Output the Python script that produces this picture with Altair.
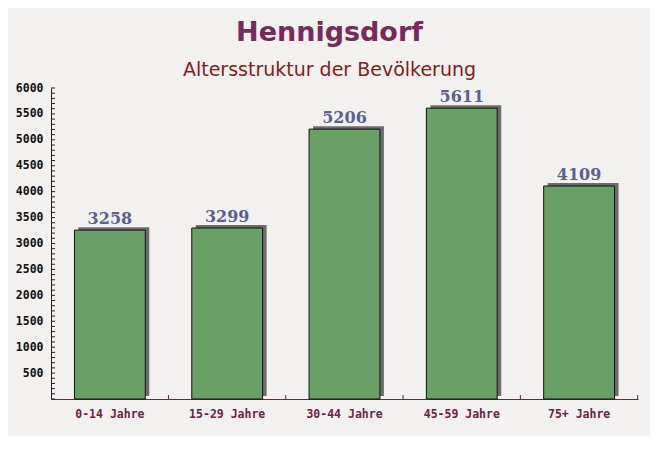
import altair as alt
import pandas as pd

categories = ["0-14 Jahre", "15-29 Jahre", "30-44 Jahre", "45-59 Jahre", "75+ Jahre"]
values = [3258, 3299, 5206, 5611, 4109]
major_ticks = [500, 1000, 1500, 2000, 2500, 3000, 3500, 4000, 4500, 5000, 5500, 6000]
minor_ticks = list(range(0, 6001, 100))

df = pd.DataFrame({"cat": categories, "val": values})

xscale = alt.Scale(domain=categories, paddingInner=0.396, paddingOuter=0.2)
yscale = alt.Scale(domain=[0, 6000], nice=False)

label_font = "DejaVu Sans Mono"

x_axis = alt.Axis(labelAngle=0, ticks=False, labelPadding=9,
                  labelFont=label_font, labelFontWeight="bold",
                  labelFontSize=11.5, labelColor="#6b2346",
                  domainColor="#6b2346", domainWidth=1, grid=False)
y_axis = alt.Axis(values=major_ticks, ticks=False, labelPadding=8,
                  format="d",
                  labelFont=label_font, labelFontWeight="bold",
                  labelFontSize=11.5, labelColor="#111111",
                  domainColor="#222222", grid=False, orient="left")

X = lambda: alt.X("cat:N", scale=xscale, sort=categories, title=None, axis=x_axis)
Y = lambda f="val:Q": alt.Y(f, scale=yscale, title=None, axis=y_axis)

shadow = alt.Chart(df).mark_bar(color="#555555", opacity=0.85).encode(
    x=X(), y=Y(),
    xOffset=alt.value(4),
    yOffset=alt.value(-3),
)

bars = alt.Chart(df).mark_bar(color="#6a9f68", stroke="#111111", strokeWidth=1).encode(
    x=X(), y=Y(),
)

labels = alt.Chart(df).mark_text(
    baseline="bottom", dy=-3, font="DejaVu Serif", fontWeight="bold",
    fontSize=16, color="#5b6090"
).encode(
    x=X(), y=Y(),
    text="val:Q",
)

# inward minor ticks on the y axis
yminor = alt.Chart(pd.DataFrame({"t": minor_ticks})).mark_rule(
    color="#222222", strokeWidth=1
).encode(
    y=Y("t:Q"),
    x=alt.value(0),
    x2=alt.value(4),
)

# inward ticks on the x axis, in the gaps between bands
xminor = alt.Chart(df).mark_rule(color="#6b2346", strokeWidth=1).encode(
    x=X(),
    xOffset=alt.value(94),
    y=alt.value(307),
    y2=alt.value(311),
)

chart = alt.layer(shadow, bars, labels, yminor, xminor).properties(
    width=587, height=311,
    autosize=alt.AutoSizeParams(type="none"),
    padding={"left": 43, "top": 80, "right": 12, "bottom": 37},
    title=alt.TitleParams(
        text="Hennigsdorf",
        subtitle="Altersstruktur der Bevölkerung",
        anchor="middle", dx=-15, offset=1,
        font="DejaVu Sans", fontSize=27, fontWeight="bold", color="#7a2a5a",
        subtitleFont="DejaVu Sans", subtitleFontSize=19,
        subtitleColor="#8b1a1a", subtitlePadding=14,
    ),
).configure(background="#f3f0f0").configure_view(stroke=None)

chart.save("out.html", embed_options={"renderer": "svg", "actions": False})
